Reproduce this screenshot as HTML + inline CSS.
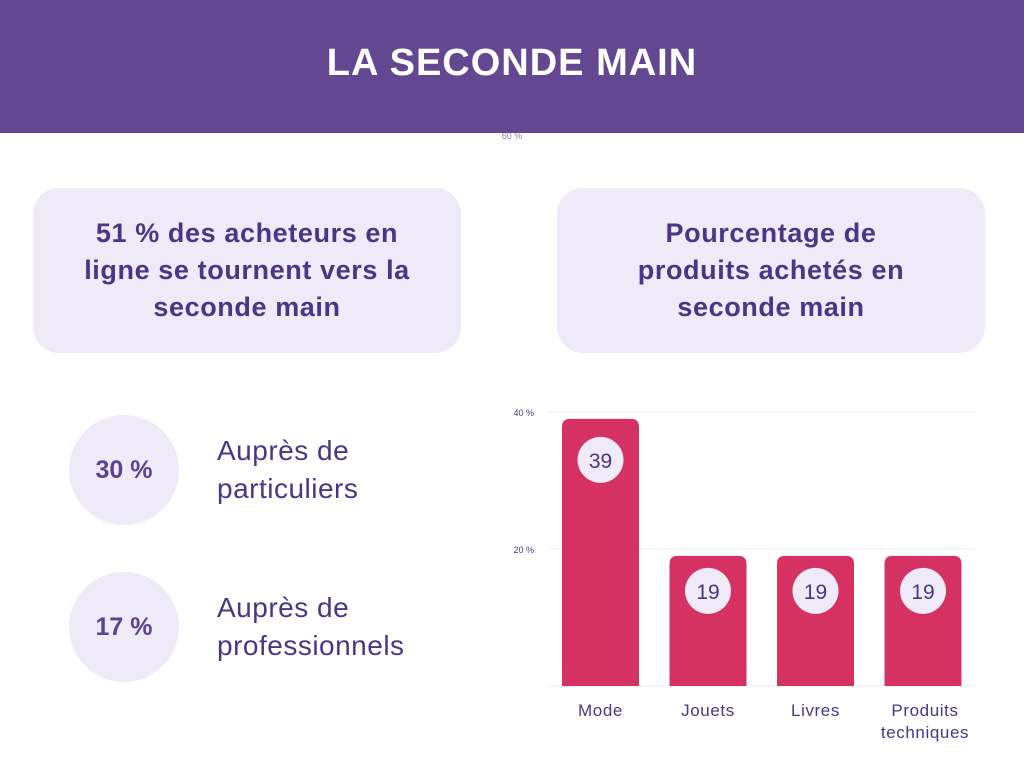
<!DOCTYPE html>
<html><head><meta charset="utf-8"><style>
body{margin:0;width:1024px;height:768px;background:#fff;font-family:"Liberation Sans",sans-serif;position:relative;overflow:hidden;color:#4b3585}
.abs{position:absolute}
.hdr{left:0;top:0;width:1024px;height:133px;background:#644791}
.title{left:0;top:42px;width:1024px;text-align:center;color:#fff;font-weight:bold;font-size:38px;letter-spacing:1px}
.card{background:#eeeaf8;border-radius:26px;height:165px;width:428px;top:188px;display:flex;align-items:center;justify-content:center;text-align:center;font-size:27px;font-weight:bold;line-height:37px;color:#4b3585;letter-spacing:0.6px}
.circ{width:110px;height:110px;border-radius:50%;background:#eeeaf8;left:69px;display:flex;align-items:center;justify-content:center;font-weight:bold;font-size:25px;color:#5b4391}
.lbl{left:217px;font-size:28px;line-height:38px;color:#4b3585;letter-spacing:0.5px}
</style></head><body>
<svg class="abs" style="left:0;top:0" width="1024" height="768">
<text x="512" y="139" font-size="9" fill="#8d80b0" text-anchor="middle" font-family="Liberation Sans">60 %</text>
<g id="chart"></g>
</svg>
<div class="abs hdr"></div>
<div class="abs title">LA SECONDE MAIN</div>
<div class="abs card" style="left:33px">51 % des acheteurs en<br>ligne se tournent vers la<br>seconde main</div>
<div class="abs card" style="left:557px">Pourcentage de<br>produits achetés en<br>seconde main</div>
<div class="abs circ" style="top:415px">30 %</div>
<div class="abs lbl" style="top:432px">Auprès de<br>particuliers</div>
<div class="abs circ" style="top:572px">17 %</div>
<div class="abs lbl" style="top:589px">Auprès de<br>professionnels</div>
<script>
const categories=["Mode","Jouets","Livres","Produits\ntechniques"];
const values=[39,19,19,19];
const ticks=[20,40];
const y0=686, pxPer=137/20, x0=562, step=107.5, bw=77;
const y=v=>y0-v*pxPer;
const g=document.getElementById('chart');
const NS='http://www.w3.org/2000/svg';
function mk(t,a){const e=document.createElementNS(NS,t);for(const k in a)e.setAttribute(k,a[k]);g.appendChild(e);return e;}
let base=mk('line',{x1:547,x2:975,y1:y0,y2:y0,stroke:'#ececf2'});


ticks.forEach(t=>{
 const l=mk('line',{x1:547,x2:975,y1:y(t),y2:y(t),stroke:'#ececf2'});
 
 
 const tx=mk('text',{x:534,y:y(t)+4,'font-size':9,fill:'#4b3585','text-anchor':'end'});
 tx.textContent=t+' %';
 
 
});
values.forEach((v,i)=>{
 const x=x0+i*step, top=y(v), r=8;
 const p=mk('path',{d:`M${x},${y0}V${top+r}Q${x},${top} ${x+r},${top}H${x+bw-r}Q${x+bw},${top} ${x+bw},${top+r}V${y0}Z`,fill:'#d63163'});
 
 
 const cy=v>30?top+41:top+35;
 const c=mk('circle',{cx:x+bw/2,cy:cy,r:23,fill:'#eeeaf8'});
 
 
 const vt=mk('text',{x:x+bw/2,y:cy+8,'font-size':21,fill:'#4b3585','text-anchor':'middle'});
 vt.textContent=v;
 
 
 categories[i].split('\n').forEach((ln,j)=>{
  const ct=mk('text',{x:x+bw/2+(i==3?2:0),y:716+j*22,'font-size':17,fill:'#4b3585','text-anchor':'middle','letter-spacing':0.6});
  ct.textContent=ln;
  
  
 });
});
</script>
</body></html>
